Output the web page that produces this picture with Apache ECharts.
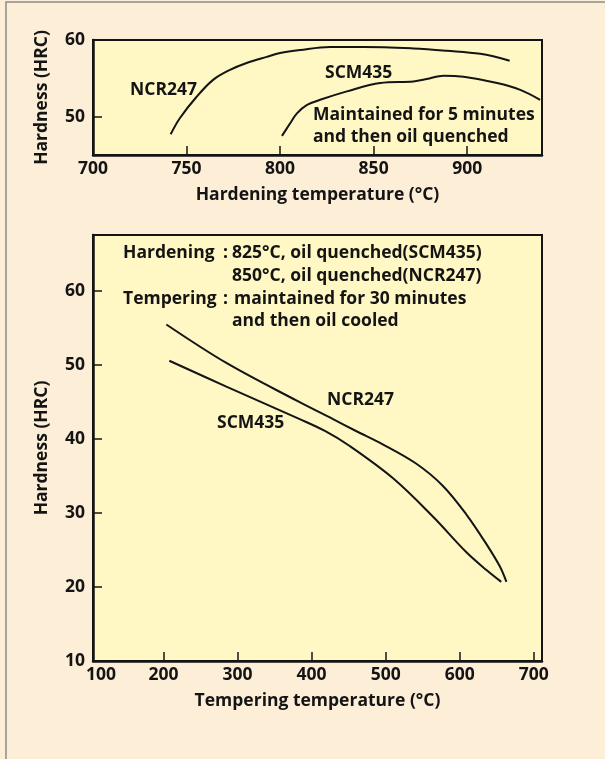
<!DOCTYPE html>
<html>
<head>
<meta charset="utf-8">
<script src="https://cdn.jsdelivr.net/npm/echarts@6/dist/echarts.min.js"></script>
<style>
  html, body { margin: 0; padding: 0; background: #FDEED8; }
  #chart { width: 605px; height: 759px; }
</style>
</head>
<body>
<div id="chart"></div>
<script>
// ---- Upper chart: hardness vs hardening temperature ----
const hardeningTemp_NCR247 = [741.5, 746.4, 755.4, 764.2, 773.2, 782.1, 792.8, 800, 810.7, 826.7, 844.5, 871.3, 889.2, 907, 922.7];
const hardeningHRC_NCR247  = [47.7, 49.8, 52.6, 54.8, 56.1, 57.0, 57.8, 58.3, 58.7, 59.1, 59.1, 58.9, 58.6, 58.2, 57.3];
const hardeningTemp_SCM435 = [801, 805.3, 808.9, 814.2, 821.4, 835.7, 853.5, 871.3, 878.4, 887.4, 898.1, 916, 928.4, 939];
const hardeningHRC_SCM435  = [47.5, 49.1, 50.4, 51.5, 52.2, 53.3, 54.4, 54.6, 54.9, 55.35, 55.2, 54.4, 53.5, 52.2];
const topXLabels = [700, 750, 800, 850, 900];
const topXTicks  = [750, 800, 850, 900];
const topYLabels = [50, 60];
const topYTicks  = [50];
const topXRange = [700, 940];
const topYRange = [45, 60];

// ---- Lower chart: hardness vs tempering temperature ----
const temperingTemp_NCR247 = [204, 285, 380, 429, 460, 496, 541, 577, 609, 636, 654, 663];
const temperingHRC_NCR247  = [55.5, 50.3, 45.2, 42.7, 41.1, 39.3, 36.7, 33.7, 29.8, 25.8, 22.8, 20.7];
const temperingTemp_SCM435 = [208, 285, 384, 418, 451, 510, 564, 609, 636, 656];
const temperingHRC_SCM435  = [50.6, 47.1, 42.7, 41.1, 39.1, 34.7, 29.5, 24.7, 22.3, 20.7];
const botXLabels = [200, 300, 400, 500, 600, 700];
const botXCornerLabel = '100';
const botXTicks  = [200, 300, 400, 500, 600, 700];
const botYLabels = [10, 20, 30, 40, 50, 60];
const botYTicks  = [20, 30, 40, 50, 60];
const botXRange = [105, 711];
const botYRange = [10, 67.6];

const FONT = '"Open Sans", "Noto Sans", sans-serif';
const INK = '#141414';

function zip(xs, ys) { return xs.map((x, i) => [x, ys[i]]); }

const chart = echarts.init(document.getElementById('chart'), null, { renderer: 'canvas' });

const axisText = { color: INK, fontFamily: FONT, fontWeight: 'bold', fontSize: 17.5 };
const nameText = { color: INK, fontFamily: FONT, fontWeight: 'bold', fontSize: 17.5 };

function xAxis(gridIndex, range, labels, ticks, name, fmt, extraLabel) {
  return {
    type: 'value', gridIndex, min: range[0], max: range[1],
    name, nameLocation: 'middle', nameGap: 31, nameTextStyle: nameText,
    axisLine: { show: true, lineStyle: { color: INK, width: 2.5 } },
    axisTick: { show: true, inside: true, length: 9, customValues: ticks, lineStyle: { color: INK, width: 1.5 } },
    axisLabel: Object.assign({ show: true, margin: 5, customValues: labels, formatter: fmt || (v => String(v)) }, axisText, extraLabel || {}),
    splitLine: { show: false }
  };
}
function yAxis(gridIndex, range, labels, ticks, name) {
  return {
    type: 'value', gridIndex, min: range[0], max: range[1],
    name, nameLocation: 'middle', nameGap: 42, nameRotate: 90, nameTextStyle: nameText,
    axisLine: { show: true, lineStyle: { color: INK, width: 2.5 } },
    axisTick: { show: true, inside: true, length: 9, customValues: ticks, lineStyle: { color: INK, width: 1.5 } },
    axisLabel: Object.assign({ show: true, margin: 8, customValues: labels }, axisText),
    splitLine: { show: false }
  };
}

const lineStyle = { color: INK, width: 2 };
function curve(xi, yi, xs, ys) {
  return { type: 'line', xAxisIndex: xi, yAxisIndex: yi, data: zip(xs, ys), smooth: 0.35,
           showSymbol: false, symbol: 'none', lineStyle, silent: true, z: 3 };
}

function txt(x, y, s) {
  return { type: 'text', x, y, z: 10, silent: true,
           style: { text: s, fill: INK, fontFamily: FONT, fontWeight: 'bold', fontSize: 17.5, align: 'left', verticalAlign: 'middle' } };
}

const option = {
  animation: false,
  backgroundColor: '#FDEED8',
  grid: [
    { left: 93, top: 40, width: 449, height: 115, show: true, backgroundColor: '#FFF8C4', borderColor: INK, borderWidth: 2 },
    { left: 93, top: 235, width: 449, height: 426, show: true, backgroundColor: '#FFF8C4', borderColor: INK, borderWidth: 2 }
  ],
  xAxis: [
    xAxis(0, topXRange, topXLabels, topXTicks, 'Hardening temperature (°C)'),
    xAxis(1, botXRange, [botXRange[0]].concat(botXLabels), botXTicks, 'Tempering temperature (°C)',
          v => (v === botXRange[0] ? '{c|' + botXCornerLabel + '}' : String(v)),
          { rich: { c: { color: INK, fontFamily: FONT, fontWeight: 'bold', fontSize: 17.5, padding: [0, 0, 0, 16] } } })
  ],
  yAxis: [
    yAxis(0, topYRange, topYLabels, topYTicks, 'Hardness (HRC)'),
    yAxis(1, botYRange, botYLabels, botYTicks, 'Hardness (HRC)')
  ],
  series: [
    curve(0, 0, hardeningTemp_NCR247, hardeningHRC_NCR247),
    curve(0, 0, hardeningTemp_SCM435, hardeningHRC_SCM435),
    curve(1, 1, temperingTemp_NCR247, temperingHRC_NCR247),
    curve(1, 1, temperingTemp_SCM435, temperingHRC_SCM435)
  ],
  graphic: [
    { type: 'rect', z: -10, silent: true, shape: { x: 6, y: 2, width: 700, height: 800 },
      style: { fill: 'transparent', stroke: '#8c8c8c', lineWidth: 1.5 } },
    txt(130, 90, 'NCR247'),
    txt(325, 73, 'SCM435'),
    txt(313, 115.5, 'Maintained for 5 minutes'),
    txt(313, 137.5, 'and then oil quenched'),
    txt(123, 253, 'Hardening'),
    txt(223, 253, ':'),
    txt(232, 253, '825°C, oil quenched(SCM435)'),
    txt(232, 276.5, '850°C, oil quenched(NCR247)'),
    txt(123, 299, 'Tempering'),
    txt(223, 299, ':'),
    txt(234, 299, 'maintained for 30 minutes'),
    txt(232, 321, 'and then oil cooled'),
    txt(327, 400, 'NCR247'),
    txt(217, 423, 'SCM435')
  ]
};
chart.setOption(option);
</script>
</body>
</html>
